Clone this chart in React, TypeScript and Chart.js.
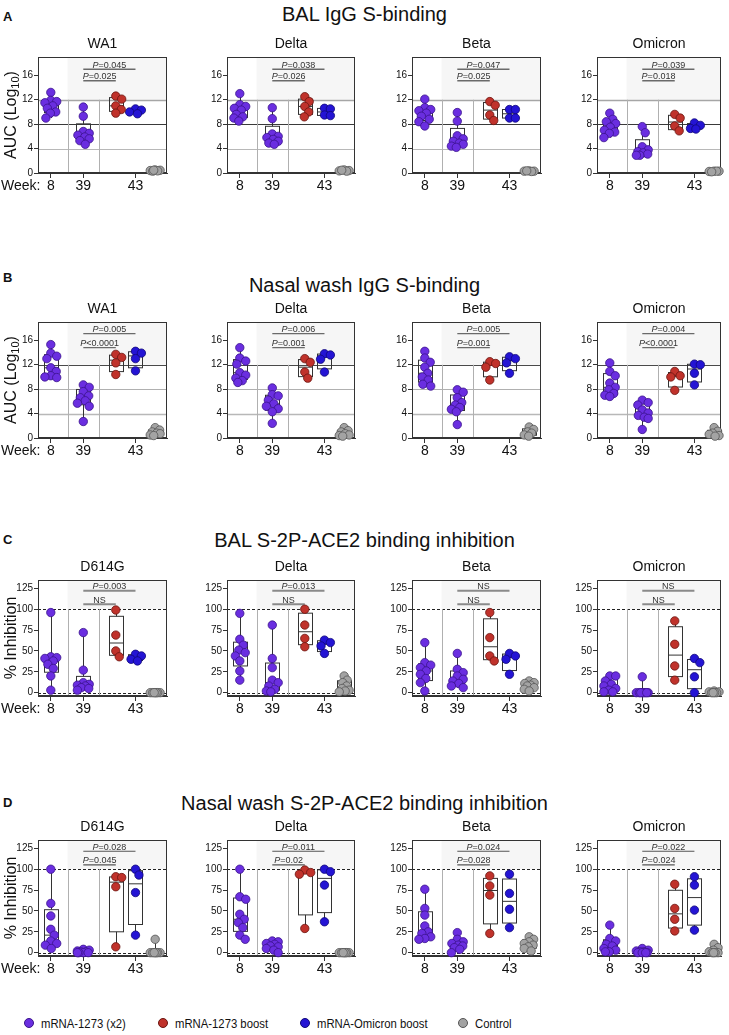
import React, { useEffect, useRef } from 'react';
import { Chart, registerables } from 'chart.js';

Chart.register(...registerables);

const FONT = '"Liberation Sans", Arial, Helvetica, sans-serif';

// ---------- categories, labels ----------
const seriesNames = ['mRNA-1273 (x2)', 'mRNA-1273 boost', 'mRNA-Omicron boost', 'Control'];
const seriesColors = ['#6a2ee0', '#c0322b', '#2414d4', '#a3a3a3'];
const seriesBorders = ['#3a138c', '#6a1510', '#100878', '#555555'];
const groupSeries = [0, 0, 1, 2, 3]; // group index -> series index
const groupX = [13, 46, 79, 99, 119]; // group positions on x scale
const dividerX = [30, 62];
const weekTickX = [13, 46, 99];
const weekLabels = ['8', '39', '43'];

const rowTitles = [
  'BAL IgG S-binding',
  'Nasal wash IgG S-binding',
  'BAL S-2P-ACE2 binding inhibition',
  'Nasal wash S-2P-ACE2 binding inhibition',
];
const rowLetters = ['A', 'B', 'C', 'D'];
const panelTitles = [
  ['WA1', 'Delta', 'Beta', 'Omicron'],
  ['WA1', 'Delta', 'Beta', 'Omicron'],
  ['D614G', 'Delta', 'Beta', 'Omicron'],
  ['D614G', 'Delta', 'Beta', 'Omicron'],
];
const aucTicks = [0, 4, 8, 12, 16];
const inhibitionTicks = [0, 25, 50, 75, 100, 125];

// P values: upper bracket (week 39 vs Omicron boost), lower bracket (week 39 vs mRNA-1273 boost)
const pUpper = [
  ['0.045', '0.038', '0.047', '0.039'],
  ['0.005', '0.006', '0.005', '0.004'],
  ['0.003', '0.013', 'NS', 'NS'],
  ['0.028', '0.011', '0.024', '0.022'],
];
const pLower = [
  ['0.025', '0.026', '0.025', '0.018'],
  ['<0.0001', '0.001', '0.001', '<0.0001'],
  ['NS', 'NS', 'NS', 'NS'],
  ['0.045', '0.02', '0.028', '0.024'],
];

// ---------- data: [week 8, week 39, mRNA-1273 boost, mRNA-Omicron boost, control] ----------
const A_WA1 = [
  [13.2, 11.9, 11.7, 11.5, 11.0, 10.6, 10.0, 9.8, 9.0],
  [10.8, 9.3, 6.8, 6.5, 6.2, 5.9, 5.6, 5.3, 4.7],
  [12.6, 12.1, 11.0, 10.4, 9.8],
  [10.5, 10.3, 10.0, 9.7],
  [0.5, 0.45, 0.4, 0.35, 0.3, 0.45],
];
const A_Delta = [
  [13.0, 11.2, 10.9, 10.6, 10.3, 9.6, 9.2, 9.0, 8.5],
  [10.7, 8.9, 6.4, 6.0, 5.8, 5.5, 5.2, 4.9, 4.7],
  [12.5, 11.7, 10.9, 10.0, 9.2],
  [10.6, 10.5, 9.5, 9.4],
  [0.5, 0.4, 0.35, 0.3, 0.45],
];
const A_Beta = [
  [12.1, 10.7, 10.4, 10.2, 9.8, 9.3, 8.8, 8.4, 7.7],
  [9.9, 8.5, 6.1, 5.6, 5.2, 4.9, 4.7, 4.4, 4.2],
  [11.7, 11.1, 9.5, 8.6],
  [10.4, 10.4, 9.0, 9.0],
  [0.35, 0.3, 0.3, 0.25, 0.35],
];
const A_Omicron = [
  [9.8, 8.8, 8.4, 8.1, 7.5, 7.0, 6.7, 6.5, 5.8],
  [7.6, 6.6, 4.3, 3.8, 3.5, 3.3, 3.1, 2.9, 2.9],
  [9.6, 9.0, 7.7, 6.9],
  [8.2, 7.8, 7.3, 7.2],
  [0.3, 0.3, 0.25, 0.3, 0.2],
];

const B_WA1 = [
  [15.3, 13.9, 13.4, 13.0, 11.5, 10.9, 10.2, 10.0, 9.9],
  [8.7, 8.3, 7.6, 6.9, 6.6, 6.1, 5.7, 5.2, 2.7],
  [13.7, 13.2, 12.3, 10.4],
  [14.2, 13.9, 13.0, 11.0],
  [1.7, 1.3, 1.0, 0.8, 0.7, 0.5, 0.4],
];
const B_Delta = [
  [14.8, 13.1, 12.6, 12.1, 10.7, 10.3, 9.8, 9.4, 9.1],
  [8.2, 7.1, 6.9, 6.2, 5.6, 5.2, 4.8, 4.3, 2.4],
  [13.0, 12.4, 10.8, 9.8],
  [13.8, 13.6, 12.9, 10.8],
  [1.7, 1.2, 1.0, 0.7, 0.5, 0.4, 0.3],
];
const B_Beta = [
  [14.2, 13.1, 12.4, 11.6, 10.6, 10.0, 9.5, 8.8, 8.5],
  [7.9, 7.5, 6.6, 5.8, 5.4, 5.0, 4.7, 4.3, 2.2],
  [12.5, 12.2, 11.6, 9.5],
  [13.3, 13.0, 12.3, 10.6],
  [1.8, 1.4, 1.0, 0.8, 0.5, 0.3],
];
const B_Omicron = [
  [12.3, 10.9, 10.2, 9.0, 8.3, 7.9, 7.3, 7.0, 6.8],
  [6.2, 5.8, 5.4, 4.6, 4.1, 3.7, 3.4, 3.2, 1.4],
  [10.9, 10.2, 10.0, 7.8],
  [12.1, 12.0, 10.6, 8.7],
  [1.7, 1.1, 0.8, 0.6, 0.4, 0.3],
];

const C_D614G = [
  [96, 43, 42, 41, 38, 34, 29, 20, 3],
  [72, 27, 12, 10, 9, 8, 6, 5, 3],
  [99, 69, 50, 43],
  [46, 44, 40, 38],
  [0, 0, 0, 0, 0, 0, 0],
];
const C_Delta = [
  [95, 64, 57, 51, 48, 44, 38, 26, 15],
  [81, 41, 30, 15, 12, 8, 4, 2, 1],
  [100, 81, 65, 55],
  [63, 60, 56, 47],
  [20, 15, 12, 8, 5, 3, 2, 1],
];
const C_Beta = [
  [60, 36, 33, 30, 26, 22, 17, 12, 2],
  [47, 28, 24, 20, 16, 14, 11, 8, 6],
  [96, 66, 44, 38],
  [47, 44, 40, 22],
  [14, 12, 11, 9, 8, 6, 4, 2],
];
const C_Omicron = [
  [20, 20, 14, 10, 8, 5, 3, 1, 1],
  [19, 0, 0, 0, 0, 0, 0, 0, 0],
  [86, 58, 32, 15],
  [41, 36, 19, 0],
  [2, 1, 1, 0, 0, 0, 0],
];

const D_D614G = [
  [100, 59, 44, 28, 21, 14, 11, 9, 5],
  [4, 3, 2, 1, 1, 0, 0, 0, 0],
  [91, 90, 79, 7],
  [100, 93, 72, 21],
  [16, 0, 0, 0, 0, 0, 0, 0],
];
const D_Delta = [
  [100, 67, 64, 46, 40, 36, 30, 21, 16],
  [14, 13, 11, 10, 8, 7, 5, 3, 0],
  [99, 96, 94, 29],
  [100, 97, 81, 37],
  [0, 0, 0, 0, 0, 0, 0],
];
const D_Beta = [
  [76, 53, 45, 32, 25, 23, 19, 17, 16],
  [24, 16, 13, 11, 9, 8, 6, 4, 0],
  [92, 80, 69, 23],
  [94, 71, 52, 30],
  [19, 16, 13, 11, 9, 7, 5, 2],
];
const D_Omicron = [
  [33, 17, 14, 10, 8, 5, 3, 1, 1],
  [5, 3, 2, 1, 1, 0, 0, 0, 0],
  [82, 53, 40, 26],
  [91, 81, 51, 27],
  [10, 6, 3, 1, 0, 0, 0, 0],
];

const panelData = [
  [A_WA1, A_Delta, A_Beta, A_Omicron],
  [B_WA1, B_Delta, B_Beta, B_Omicron],
  [C_D614G, C_Delta, C_Beta, C_Omicron],
  [D_D614G, D_Delta, D_Beta, D_Omicron],
];

// ---------- layout & style ----------
const colLeft = [38, 227, 412, 597];
const colWidth = [131, 130, 131, 126];
const rowTop = [57, 322, 580, 840];
const PLOT_H = 116;
const Y_AXIS_W = 38;
const TOP_PAD = 26;
const X_AXIS_H = 24;
const RIGHT_PAD = 3;

type RefLine = { v: number; c: string; w: number; dash: number[] };
type RowSpec = {
  min: number; max: number; ticks: number[]; refLines: RefLine[]; dividerTop: number;
  pUpperY: number; pLowerY: number; bracketColor: string; bracketWidth: number; yTitle: 'auc' | 'inh';
};
const rowSpecs: RowSpec[] = [
  {
    min: 0, max: 19, ticks: aucTicks, dividerTop: 12, pUpperY: 17.0, pLowerY: 15.1,
    bracketColor: '#6a6a6a', bracketWidth: 1.4, yTitle: 'auc',
    refLines: [
      { v: 12, c: '#a6a6a6', w: 1.5, dash: [] },
      { v: 8, c: '#3a3a3a', w: 1, dash: [] },
      { v: 4, c: '#b8b8b8', w: 1, dash: [] },
    ],
  },
  {
    min: 0, max: 19, ticks: aucTicks, dividerTop: 12, pUpperY: 17.1, pLowerY: 14.8,
    bracketColor: '#6a6a6a', bracketWidth: 1.4, yTitle: 'auc',
    refLines: [
      { v: 12, c: '#4a4a4a', w: 1, dash: [] },
      { v: 8, c: '#b0b0b0', w: 1, dash: [] },
      { v: 4, c: '#b8b8b8', w: 1.5, dash: [] },
    ],
  },
  {
    min: -4, max: 135, ticks: inhibitionTicks, dividerTop: 100, pUpperY: 122, pLowerY: 106,
    bracketColor: '#8a8a8a', bracketWidth: 2, yTitle: 'inh',
    refLines: [
      { v: 100, c: '#222', w: 1, dash: [3, 2] },
      { v: 0, c: '#222', w: 1, dash: [3, 2] },
    ],
  },
  {
    min: -4, max: 135, ticks: inhibitionTicks, dividerTop: 100, pUpperY: 121.5, pLowerY: 105.3,
    bracketColor: '#555', bracketWidth: 1.2, yTitle: 'inh',
    refLines: [
      { v: 100, c: '#222', w: 1, dash: [3, 2] },
      { v: 0, c: '#222', w: 1, dash: [3, 2] },
    ],
  },
];

// ---------- helpers ----------
function quantile(sorted: number[], p: number): number {
  const n = sorted.length;
  const pos = (n + 1) * p;
  if (pos <= 1) return sorted[0];
  if (pos >= n) return sorted[n - 1];
  const lo = Math.floor(pos);
  const f = pos - lo;
  return sorted[lo - 1] + f * (sorted[lo] - sorted[lo - 1]);
}

function swarm(vals: number[], pxPerY: number, D: number, maxOff: number): number[] {
  const placed: { x: number; y: number }[] = [];
  return vals.map((v) => {
    const py = v * pxPerY;
    let chosen = 0;
    let best = -1;
    for (let k = 0; k <= maxOff * 4; k++) {
      const off = (k % 2 === 1 ? 1 : -1) * Math.ceil(k / 2) * 0.5;
      let minD = Infinity;
      for (const p of placed) minD = Math.min(minD, Math.hypot(p.x - off, p.y - py));
      if (minD >= D) { chosen = off; best = Infinity; break; }
      if (minD > best) { best = minD; chosen = off; }
    }
    placed.push({ x: chosen, y: py });
    return chosen;
  });
}

function drawP(ctx: CanvasRenderingContext2D, text: string, cx: number, yBase: number) {
  ctx.fillStyle = '#333';
  ctx.textBaseline = 'alphabetic';
  if (text === 'NS') {
    ctx.font = `9px ${FONT}`;
    ctx.textAlign = 'center';
    ctx.fillText('NS', cx, yBase);
    return;
  }
  const rest = text.startsWith('<') ? text : '=' + text;
  ctx.font = `italic 9px ${FONT}`;
  const w1 = ctx.measureText('P').width;
  ctx.font = `9px ${FONT}`;
  const w2 = ctx.measureText(rest).width;
  const x0 = cx - (w1 + w2) / 2;
  ctx.textAlign = 'left';
  ctx.font = `italic 9px ${FONT}`;
  ctx.fillText('P', x0, yBase);
  ctx.font = `9px ${FONT}`;
  ctx.fillText(rest, x0 + w1, yBase);
}

function Panel({ row, col }: { row: number; col: number }) {
  const ref = useRef<HTMLCanvasElement>(null);
  const spec = rowSpecs[row];
  const plotW = colWidth[col];
  const W = Y_AXIS_W + plotW + RIGHT_PAD;
  const H = TOP_PAD + PLOT_H + X_AXIS_H;

  useEffect(() => {
    const groups = panelData[row][col];
    const pxPerY = PLOT_H / (spec.max - spec.min);
    const datasets = groups.map((vals, g) => {
      const offs = g === 4 ? swarm(vals, pxPerY, 5, 5) : swarm(vals, pxPerY, 6.6, 6);
      const s = groupSeries[g];
      return {
        label: seriesNames[s],
        data: vals.map((v, i) => ({ x: groupX[g] + offs[i], y: v })),
        backgroundColor: seriesColors[s],
        borderColor: seriesBorders[s],
        borderWidth: 0.8,
        pointRadius: 4.2,
        pointHoverRadius: 4.2,
        clip: false,
      };
    });

    const panelPlugin = {
      id: 'panelDecor',
      beforeDatasetsDraw(chart: any) {
        const { ctx, chartArea: a, scales } = chart;
        const x = scales.x;
        const y = scales.y;
        ctx.save();
        // faint shading behind the statistics
        const sx = x.getPixelForValue(dividerX[0]);
        const sy = y.getPixelForValue(spec.dividerTop);
        ctx.fillStyle = '#f6f6f6';
        ctx.fillRect(sx, a.top, a.right - sx, sy - a.top);
        // reference lines
        for (const r of spec.refLines) {
          const py = Math.round(y.getPixelForValue(r.v)) + 0.5;
          ctx.strokeStyle = r.c;
          ctx.lineWidth = r.w;
          ctx.setLineDash(r.dash);
          ctx.beginPath();
          ctx.moveTo(a.left, py);
          ctx.lineTo(a.right, py);
          ctx.stroke();
        }
        ctx.setLineDash([]);
        // vertical dividers
        ctx.strokeStyle = '#b0b0b0';
        ctx.lineWidth = 1;
        for (const d of dividerX) {
          const px = Math.round(x.getPixelForValue(d)) + 0.5;
          ctx.beginPath();
          ctx.moveTo(px, a.bottom);
          ctx.lineTo(px, sy);
          ctx.stroke();
        }
        // box plots (min to max)
        ctx.strokeStyle = '#333';
        ctx.lineWidth = 1;
        groups.forEach((vals, g) => {
          const s = [...vals].sort((p, q) => p - q);
          const mn = s[0];
          const mx = s[s.length - 1];
          const q1 = quantile(s, 0.25);
          const md = quantile(s, 0.5);
          const q3 = quantile(s, 0.75);
          const cx = Math.round(x.getPixelForValue(groupX[g])) + 0.5;
          const half = 7;
          const yq1 = y.getPixelForValue(q1);
          const yq3 = y.getPixelForValue(q3);
          ctx.beginPath();
          ctx.moveTo(cx, y.getPixelForValue(mx));
          ctx.lineTo(cx, yq3);
          ctx.moveTo(cx, yq1);
          ctx.lineTo(cx, y.getPixelForValue(mn));
          ctx.stroke();
          ctx.strokeRect(cx - half, yq3, half * 2, yq1 - yq3);
          const ym = y.getPixelForValue(md);
          ctx.beginPath();
          ctx.moveTo(cx - half, ym);
          ctx.lineTo(cx + half, ym);
          ctx.stroke();
        });
        // significance brackets
        const brackets = [
          { y: spec.pUpperY, to: 3, text: pUpper[row][col] },
          { y: spec.pLowerY, to: 2, text: pLower[row][col] },
        ];
        for (const b of brackets) {
          const x1 = x.getPixelForValue(groupX[1]);
          const x2 = x.getPixelForValue(groupX[b.to]);
          const py = y.getPixelForValue(b.y);
          ctx.strokeStyle = spec.bracketColor;
          ctx.lineWidth = spec.bracketWidth;
          ctx.beginPath();
          ctx.moveTo(x1, py);
          ctx.lineTo(x2, py);
          ctx.stroke();
          drawP(ctx, b.text, (x1 + x2) / 2, py - 1.5);
        }
        // frame
        ctx.strokeStyle = '#333';
        ctx.lineWidth = 1;
        ctx.strokeRect(a.left + 0.5, a.top + 0.5, a.width - 1, a.height - 1);
        ctx.restore();
      },
      afterDraw(chart: any) {
        const { ctx, chartArea: a } = chart;
        ctx.save();
        ctx.fillStyle = '#111';
        ctx.textAlign = 'center';
        ctx.textBaseline = 'middle';
        ctx.font = `14px ${FONT}`;
        ctx.fillText(panelTitles[row][col], (a.left + a.right) / 2, a.top - 13);
        if (col === 0) {
          // Week label
          ctx.textAlign = 'left';
          ctx.font = `14px ${FONT}`;
          ctx.fillText('Week:', 1, a.bottom + 13.5);
          // y-axis title
          ctx.translate(12, (a.top + a.bottom) / 2);
          ctx.rotate(-Math.PI / 2);
          ctx.textBaseline = 'middle';
          if (spec.yTitle === 'auc') {
            ctx.font = `16px ${FONT}`;
            const t1 = 'AUC (Log';
            const w1 = ctx.measureText(t1).width;
            ctx.font = `11px ${FONT}`;
            const w2 = ctx.measureText('10').width;
            ctx.font = `16px ${FONT}`;
            const w3 = ctx.measureText(')').width;
            const x0 = -(w1 + w2 + w3) / 2;
            ctx.fillText(t1, x0, 0);
            ctx.font = `11px ${FONT}`;
            ctx.fillText('10', x0 + w1, 4);
            ctx.font = `16px ${FONT}`;
            ctx.fillText(')', x0 + w1 + w2, 0);
          } else {
            ctx.textAlign = 'center';
            ctx.font = `16px ${FONT}`;
            ctx.fillText('% Inhibition', 0, 0);
          }
        }
        ctx.restore();
      },
    };

    const chart = new Chart(ref.current as HTMLCanvasElement, {
      type: 'scatter',
      data: { datasets } as any,
      options: {
        responsive: false,
        maintainAspectRatio: false,
        animation: false,
        layout: { padding: { top: TOP_PAD, right: RIGHT_PAD, left: 0, bottom: 0 } },
        plugins: { legend: { display: false }, tooltip: { enabled: false }, title: { display: false } },
        scales: {
          x: {
            type: 'linear',
            min: 0,
            max: plotW,
            afterBuildTicks: (s: any) => { s.ticks = weekTickX.map((v) => ({ value: v })); },
            afterFit: (s: any) => { s.height = X_AXIS_H; },
            ticks: {
              callback: (_v: any, i: number) => weekLabels[i],
              font: { size: 14, family: FONT },
              color: '#111',
              padding: 0,
              autoSkip: false,
              maxRotation: 0,
            },
            grid: { display: true, drawOnChartArea: false, drawTicks: true, tickLength: 5, color: '#333' },
            border: { display: true, color: '#333' },
          },
          y: {
            type: 'linear',
            min: spec.min,
            max: spec.max,
            afterBuildTicks: (s: any) => { s.ticks = spec.ticks.map((v) => ({ value: v })); },
            afterFit: (s: any) => { s.width = Y_AXIS_W; },
            ticks: { font: { size: 10, family: FONT }, color: '#111', padding: 1 },
            grid: { display: true, drawOnChartArea: false, drawTicks: true, tickLength: 4, color: '#333' },
            border: { display: true, color: '#333' },
          },
        },
      } as any,
      plugins: [panelPlugin],
    });
    return () => chart.destroy();
  }, [row, col]);

  return (
    <canvas
      ref={ref}
      width={W}
      height={H}
      style={{ position: 'absolute', left: colLeft[col] - Y_AXIS_W, top: rowTop[row] - TOP_PAD, width: W, height: H }}
    />
  );
}

const rowTitleY = [14, 285, 540, 803];
const rowLetterY = [16.5, 278, 540, 803];
const legendX = [24, 158, 300, 458];

export default function App() {
  return (
    <div style={{ position: 'absolute', left: 0, top: 0, width: 729, height: 1035, background: '#fff', overflow: 'hidden', fontFamily: FONT }}>
      {rowTitles.map((t, r) => (
        <div key={'t' + r} style={{ position: 'absolute', left: 0, width: 729, top: rowTitleY[r] - 12, height: 24, lineHeight: '24px', textAlign: 'center', fontSize: 20, color: '#111' }}>{t}</div>
      ))}
      {rowLetters.map((t, r) => (
        <div key={'l' + r} style={{ position: 'absolute', left: 3, top: rowLetterY[r] - 8, height: 16, lineHeight: '16px', fontSize: 13, fontWeight: 'bold', color: '#111' }}>{t}</div>
      ))}
      {[0, 1, 2, 3].map((r) => [0, 1, 2, 3].map((c) => <Panel key={`${r}-${c}`} row={r} col={c} />))}
      {seriesNames.map((n, i) => (
        <div key={'lg' + i} style={{ position: 'absolute', left: legendX[i], top: 1015, height: 16, display: 'flex', alignItems: 'center', color: '#111', whiteSpace: 'nowrap' }}>
          <span style={{ display: 'inline-block', width: 8, height: 8, borderRadius: '50%', background: seriesColors[i], border: `0.8px solid ${seriesBorders[i]}`, marginRight: 7 }} />
          <span style={{ display: 'inline-block', fontSize: 13, transform: 'scaleX(0.87)', transformOrigin: 'left center' }}>{n}</span>
        </div>
      ))}
    </div>
  );
}
